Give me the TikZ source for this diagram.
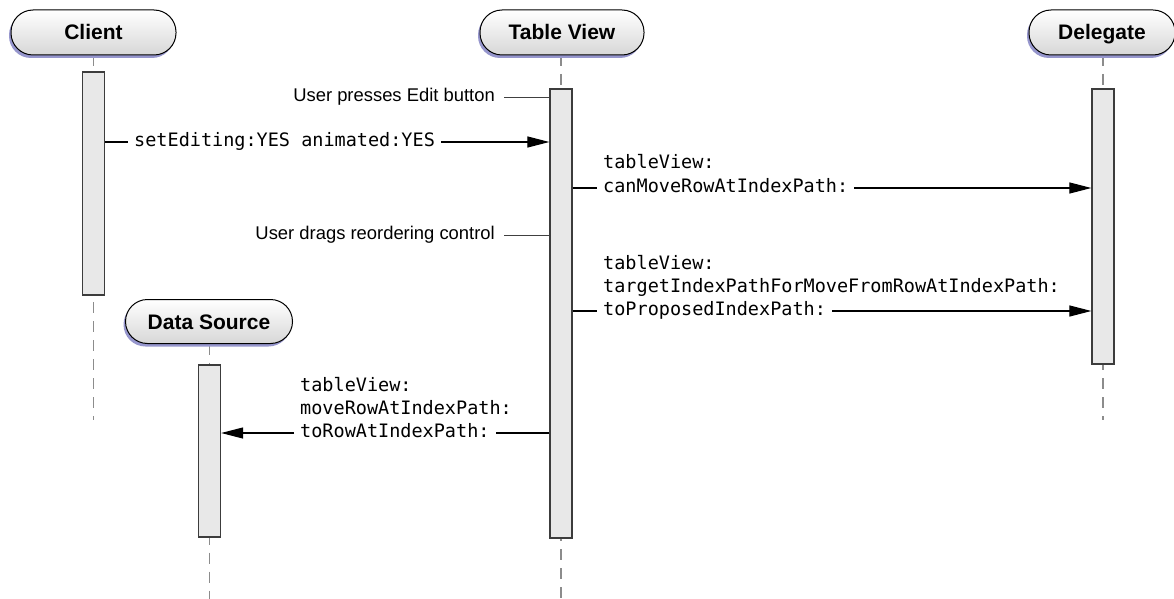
\documentclass[tikz,border=0pt]{standalone}
\usepackage{fontspec}
\setmainfont{Liberation Sans}
\setmonofont{DejaVu Sans Mono}
\usetikzlibrary{arrows.meta,shadows}
\definecolor{shadowc}{RGB}{150,150,205}
\definecolor{lifec}{RGB}{140,140,140}
\definecolor{barc}{RGB}{60,60,60}
\definecolor{barfill}{RGB}{232,232,232}
\definecolor{headbot}{RGB}{215,215,215}
\begin{document}
\begin{tikzpicture}[x=1pt,y=-1pt,
  head/.style={draw=black, line width=1pt, rounded corners=22pt, minimum height=45pt,
    top color=white, bottom color=headbot, inner sep=0pt,
    text height=15pt, text depth=0pt,
    font=\fontsize{21}{24}\selectfont\bfseries,
    drop shadow={shadow xshift=-2pt, shadow yshift=-3pt, fill=shadowc, opacity=1}},
  life/.style={draw=lifec, line width=1.4pt, dash pattern=on 11pt off 8pt},
  bar/.style={draw=barc, fill=barfill, line width=1.3pt, inner sep=0pt, minimum width=22pt},
  msg/.style={font=\fontsize{18.5}{23.5}\selectfont\ttfamily, inner xsep=6pt, inner ysep=0pt,
    text height=13pt, text depth=4pt, anchor=west},
  note/.style={font=\fontsize{18.4}{22}\selectfont, inner xsep=9pt, inner ysep=0pt,
    text height=13pt, text depth=4pt, anchor=east},
  conn/.style={line width=1.2pt, draw=black},
  thin/.style={line width=0.8pt, draw=black!75},
  arr/.style={conn, -{Triangle[length=22pt,width=11pt]}}
]
\useasboundingbox (0,0) rectangle (1174,599);

% lifeline end points
\coordinate (ctop) at (93.5,55);
\coordinate (cend) at (93.5,420);
\coordinate (tvtop) at (561,55);
\coordinate (tvend) at (561,599);
\coordinate (dtop) at (1103,55);
\coordinate (dend) at (1103,420);
\coordinate (dstop) at (209.5,343.5);
\coordinate (dsend) at (209.5,599);

% lifelines
\draw[life] (ctop) -- (cend);
\draw[life] (tvtop) -- (tvend);
\draw[life] (dtop) -- (dend);
\draw[life] (dstop) -- (dsend);

% heads
\node[head, minimum width=165pt] (client) at (93.5,32.5) {Client};
\node[head, minimum width=164pt] (tv) at (562,32.5) {Table View};
\node[head, minimum width=146pt] (del) at (1102,32.5) {Delegate};
\node[head, minimum width=167pt, minimum height=44pt] (ds) at (209,321.5) {Data Source};

% activation bars
\node[bar, minimum height=223pt] (cbar) at (93.5,183.5) {};
\node[bar, minimum height=449pt] (tvbar) at (561,313.5) {};
\node[bar, minimum height=275pt] (dbar) at (1103,226.5) {};
\node[bar, minimum height=172pt] (dsbar) at (209.5,451) {};

% notes
\node[note] (n1) at (504,97) {User presses Edit button};
\draw[thin] (n1.east) -- (tvbar.west |- n1.east);
\node[note] (n2) at (504,235) {User drags reordering control};
\draw[thin] (n2.east) -- (tvbar.west |- n2.east);

% message 1
\node[msg] (m1) at (128,142) {setEditing:YES animated:YES};
\draw[conn] (cbar.east |- m1.west) -- (m1.west);
\draw[arr] (m1.east) -- (tvbar.west |- m1.east);

% message 3
\node[msg] (m3a) at (597,164) {tableView:};
\node[msg] (m3) at (597,188) {canMoveRowAtIndexPath:};
\draw[conn] (tvbar.east |- m3.west) -- (m3.west);
\draw[arr] (m3.east) -- (dbar.west |- m3.east);

% message 5
\node[msg] (m5a) at (597,265) {tableView:};
\node[msg] (m5b) at (597,288) {targetIndexPathForMoveFromRowAtIndexPath:};
\node[msg] (m5) at (597,311) {toProposedIndexPath:};
\draw[conn] (tvbar.east |- m5.west) -- (m5.west);
\draw[arr] (m5.east) -- (dbar.west |- m5.east);

% message 6
\node[msg] (m6a) at (294,387) {tableView:};
\node[msg] (m6b) at (294,410) {moveRowAtIndexPath:};
\node[msg] (m6) at (294,433) {toRowAtIndexPath:};
\draw[conn] (tvbar.west |- m6.east) -- (m6.east);
\draw[arr] (m6.west) -- (dsbar.east |- m6.west);
\end{tikzpicture}
\end{document}
